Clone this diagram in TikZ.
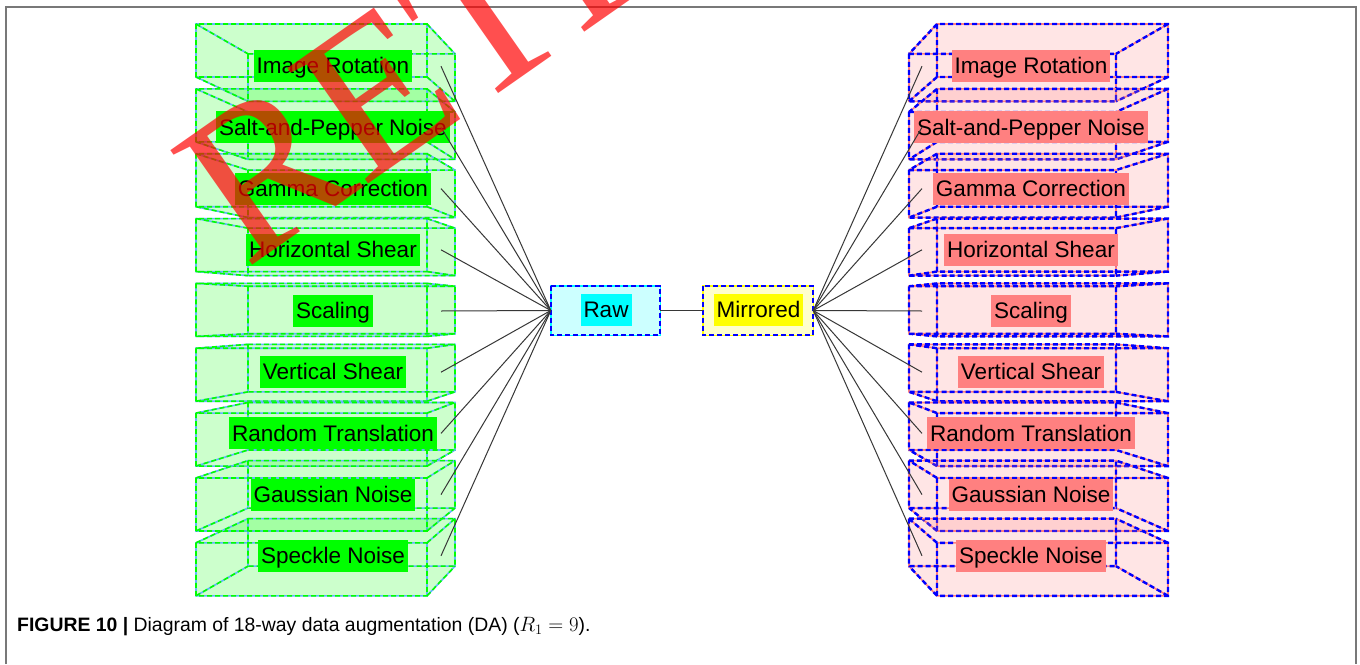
\documentclass[tikz,border=0pt]{standalone}
\usepackage{fontspec}
\setmainfont{Liberation Sans}
\newfontfamily\wmfont{Liberation Serif}
\newfontfamily\capfont{Liberation Sans}
\usetikzlibrary{calc}

\definecolor{boxgreen}{RGB}{0,255,0}
\definecolor{edgeblue}{RGB}{100,180,255}
\definecolor{salmon}{RGB}{255,128,128}
\definecolor{pureblue}{RGB}{0,0,255}
\definecolor{rawfill}{RGB}{204,255,255}
\definecolor{mirfill}{RGB}{255,255,204}
\definecolor{rawcyan}{RGB}{0,255,255}
\definecolor{miryellow}{RGB}{255,255,0}
\definecolor{wmred}{RGB}{255,0,0}
\definecolor{linkgray}{RGB}{55,55,55}
\definecolor{framegray}{RGB}{120,120,120}

\tikzset{
  lab/.style={fill=#1, inner xsep=3pt, inner ysep=3.5pt, text height=20.3pt,
    text depth=4.8pt, font=\fontsize{22.5}{27}\selectfont, text=black},
  link/.style={draw=linkgray, line width=1pt},
  dashpat/.style={dash pattern=on 5pt off 3pt},
  hub/.style={minimum width=109pt, minimum height=49pt, inner sep=0pt},
}

% all twelve edges of a cuboid whose front face spans x #1..#2
\newcommand{\cubpath}[2]{(#1,\fya) rectangle (#2,\fyb) (\bxa,\bya) rectangle (\bxb,\byb)
  (#1,\fya) -- (\bxa,\bya) (#2,\fya) -- (\bxb,\bya)
  (#1,\fyb) -- (\bxa,\byb) (#2,\fyb) -- (\bxb,\byb)}

% #1 face colour, #2 edge colour, #3 dash colour, #4/#5 front x range,
% #6 front y centre, #7 x of the vanishing point, #8 dash width
\newcommand{\drawcuboid}[8]{%
  \pgfmathsetmacro\fya{#6-26.5}%
  \pgfmathsetmacro\fyb{#6+26.5}%
  \pgfmathsetmacro\bxa{#7+0.896*(#4-#7)}%
  \pgfmathsetmacro\bxb{#7+0.896*(#5-#7)}%
  \pgfmathsetmacro\bya{311+0.896*(\fya-311)}%
  \pgfmathsetmacro\byb{311+0.896*(\fyb-311)}%
  \begin{scope}[transparency group, opacity=0.2]
    \fill[#1] (#4,\fya) rectangle (#5,\fyb);
    \fill[#1] (\bxa,\bya) rectangle (\bxb,\byb);
    \fill[#1] (#4,\fya) -- (#5,\fya) -- (\bxb,\bya) -- (\bxa,\bya) -- cycle;
    \fill[#1] (#4,\fyb) -- (#5,\fyb) -- (\bxb,\byb) -- (\bxa,\byb) -- cycle;
    \fill[#1] (#4,\fya) -- (#4,\fyb) -- (\bxa,\byb) -- (\bxa,\bya) -- cycle;
    \fill[#1] (#5,\fya) -- (#5,\fyb) -- (\bxb,\byb) -- (\bxb,\bya) -- cycle;
  \end{scope}
  \draw[#2, line width=1.6pt] \cubpath{#4}{#5};
  \draw[#3, line width=#8, dashpat] \cubpath{#4}{#5};
}

\begin{document}
\begin{tikzpicture}[x=1pt, y=-1pt]
  \useasboundingbox (0,0) rectangle (1360,664);
  \fill[white] (0,0) rectangle (1360,664);

  % figure frame
  \draw[framegray, line width=1.5pt] (6,664) -- (6,7) -- (1356,7) -- (1356,664);

  % augmentation stacks
  \foreach \t [count=\i from 0] in {Image Rotation, Salt-and-Pepper Noise,
      Gamma Correction, Horizontal Shear, Scaling, Vertical Shear,
      Random Translation, Gaussian Noise, Speckle Noise}{
    \pgfmathsetmacro\yc{50.5+64.85*\i}
    \pgfmathsetmacro\ly{311+61.2*(\i-4)}
    \drawcuboid{boxgreen}{edgeblue}{boxgreen}{196}{427}{\yc}{696}{1.6pt}
    \node[lab=boxgreen] (L\i) at (333,\ly) {\t};
    \coordinate (Lc\i) at (441,\ly);
    \drawcuboid{salmon}{salmon}{pureblue}{937}{1168}{\yc}{668}{2.4pt}
    \node[lab=salmon] (R\i) at (1031,\ly) {\t};
    \coordinate (Rc\i) at (922,\ly);
  }

  % the two source images
  \node[hub, fill=rawfill] (raw) at (605.5,310.5) {};
  \draw[rawcyan, line width=1.4pt] (raw.north west) rectangle (raw.south east);
  \draw[pureblue, line width=2pt, dashpat] (raw.north west) rectangle (raw.south east);
  \node[lab=rawcyan] (rawlab) at (606,310) {Raw};

  \node[hub, minimum width=110pt, fill=mirfill] (mir) at (758,310.5) {};
  \draw[miryellow, line width=1.4pt] (mir.north west) rectangle (mir.south east);
  \draw[pureblue, line width=2pt, dashpat] (mir.north west) rectangle (mir.south east);
  \node[lab=miryellow] (mirlab) at (758.5,310) {Mirrored};

  % connectors
  \draw[link] (raw.east) -- (mir.west);
  \foreach \i in {0,...,8}{
    \draw[link] (Lc\i) -- (raw.west);
    \draw[link] (Rc\i) -- (mir.east);
  }

  % caption
  \node[anchor=base west, inner sep=0pt, font=\capfont\fontsize{19.4}{23}\selectfont]
    (cap) at (17,631) {\textbf{FIGURE 10 |} Diagram of 18-way data augmentation (DA) ($R_1 = 9$).};

  % stamp
  \begin{scope}
    \clip (0,0) rectangle (1360,664);
    \node[anchor=base west, inner sep=0pt, rotate=35, text=wmred, text opacity=0.69,
      font=\wmfont\fontsize{215}{215}\selectfont] (stamp) at (246,270) {RETRACTED};
  \end{scope}
\end{tikzpicture}
\end{document}
